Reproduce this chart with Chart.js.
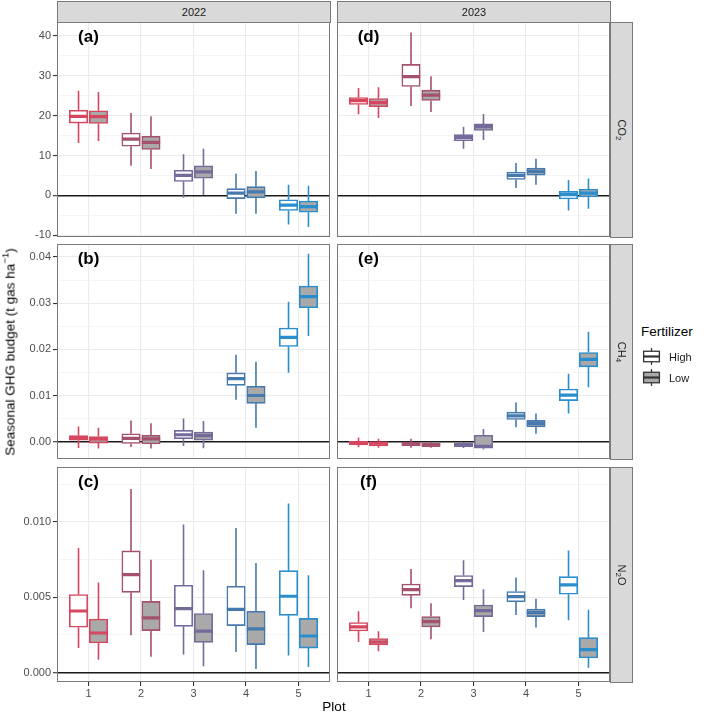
<!DOCTYPE html>
<html>
<head>
<meta charset="utf-8">
<script src="https://cdn.jsdelivr.net/npm/chart.js@4.4.1/dist/chart.umd.min.js"></script>
<style>
html,body{margin:0;padding:0;background:#fff;}
body{width:709px;height:713px;position:relative;overflow:hidden;font-family:"Liberation Sans",Arial,Helvetica,sans-serif;font-weight:400;}
canvas.panel{position:absolute;}
.strip{position:absolute;box-sizing:border-box;background:#d9d9d9;border:1px solid #7a7a7a;color:#1a1a1a;font-size:11px;}
.strip span{position:absolute;left:50%;top:50%;white-space:nowrap;transform:translate(-50%,-50%);}
.strip.right span{transform:translate(-50%,-50%) rotate(90deg);}
sub{font-size:8px;vertical-align:-2px;line-height:0;}
sup{font-size:9.5px;vertical-align:6px;line-height:0;}
.ytitle{position:absolute;left:10px;top:352px;transform:translate(-50%,-50%) rotate(-90deg);font-size:13.5px;font-weight:400;white-space:nowrap;color:#000;}
.xtitle{position:absolute;left:334px;top:706px;transform:translate(-50%,-50%);font-size:13.5px;font-weight:400;color:#000;white-space:nowrap;}
.legend{position:absolute;left:641px;top:324px;}
.legend .ltitle{font-size:13.5px;color:#000;white-space:nowrap;height:16px;line-height:16px;}
.legend .row{position:relative;height:21px;}
.legend .row svg{position:absolute;left:0;top:0;}
.legend .row span{position:absolute;left:28px;top:50%;transform:translateY(-50%);font-size:11px;color:#1a1a1a;}
</style>
</head>
<body>
<div id="root"></div>
<script>
// ---------------- DATA ----------------
const plots = [1, 2, 3, 4, 5];
const plotLabels = ['1', '2', '3', '4', '5'];
const years = ['2022', '2023'];
const gases = ['CO2', 'CH4', 'N2O'];
const gasLabelsHtml = ['CO<sub>2</sub>', 'CH<sub>4</sub>', 'N<sub>2</sub>O'];
const fertilizers = ['High', 'Low'];
const panelTags = [['(a)', '(b)', '(c)'], ['(d)', '(e)', '(f)']];
const xTitle = 'Plot';
const yTitleHtml = 'Seasonal GHG budget (t gas ha<sup>\u22121</sup>)';
const legendTitle = 'Fertilizer';

// box statistics per plot: [min, q1, median, q3, max]
const co2_2022_high = [[13.1, 18.1, 19.8, 21.3, 26.2], [7.4, 12.3, 14.1, 15.6, 20.6], [-0.6, 3.5, 5.0, 6.3, 10.3], [-4.6, -0.8, 0.6, 1.7, 5.4], [-7.3, -3.75, -2.4, -1.1, 2.7]];
const co2_2022_low  = [[13.6, 18.0, 19.7, 21.2, 25.9], [6.6, 11.5, 13.3, 14.8, 19.8], [0.1, 4.3, 5.9, 7.4, 11.7], [-4.6, -0.6, 0.9, 2.2, 6.1], [-7.9, -4.2, -2.8, -1.4, 2.4]];
const co2_2023_high = [[20.3, 22.75, 23.75, 24.5, 26.9], [22.4, 27.25, 29.75, 32.8, 40.8], [11.7, 13.7, 14.5, 15.2, 17.2], [1.85, 4.0, 5.0, 5.85, 8.1], [-3.75, -0.9, 0.2, 1.0, 3.85]];
const co2_2023_low  = [[19.35, 22.2, 23.25, 24.25, 27.1], [20.85, 23.75, 25.1, 26.35, 29.85], [13.9, 16.25, 17.2, 17.9, 20.35], [2.7, 5.1, 6.0, 6.85, 9.2], [-3.3, -0.4, 0.6, 1.6, 4.25]];

const ch4_2022_high = [[-0.00137, 0.0003, 0.0008, 0.0013, 0.0033], [-0.00115, -0.0004, 0.0007, 0.0017, 0.0046], [-0.00094, 0.00065, 0.0015, 0.00245, 0.0050], [0.0091, 0.0122, 0.01365, 0.0149, 0.0188], [0.0149, 0.0206, 0.0226, 0.0246, 0.0303]];
const ch4_2022_low  = [[-0.00145, -0.0003, 0.0006, 0.0011, 0.0030], [-0.00145, -0.0005, 0.0006, 0.00137, 0.0040], [-0.0014, 0.0003, 0.0013, 0.0021, 0.0045], [0.0030, 0.0083, 0.0100, 0.0120, 0.0173], [0.0229, 0.0290, 0.0314, 0.0337, 0.0407]];
const ch4_2023_high = [[-0.0012, -0.0007, -0.0003, 0.0001, 0.0009], [-0.0013, -0.0009, -0.0004, -0.0001, 0.00065], [-0.00137, -0.0011, -0.00065, -0.00037, -0.00015], [0.0031, 0.0048, 0.0056, 0.0064, 0.0085], [0.0061, 0.0089, 0.0101, 0.0114, 0.0147]];
const ch4_2023_low  = [[-0.0013, -0.0009, -0.0003, 0.0000, 0.00065], [-0.0013, -0.0011, -0.00065, -0.0003, 0.0000], [-0.0017, -0.0014, -0.0010, 0.00137, 0.00275], [0.0017, 0.0032, 0.0039, 0.0046, 0.0061], [0.0118, 0.0162, 0.0178, 0.0193, 0.0238]];

const n2o_2022_high = [[0.00163, 0.00301, 0.00409, 0.00518, 0.00827], [0.00248, 0.00533, 0.00651, 0.00808, 0.01219], [0.0012, 0.00307, 0.00425, 0.0058, 0.00983], [0.00137, 0.00312, 0.0042, 0.00573, 0.0096], [0.00113, 0.0038, 0.00507, 0.00677, 0.01122]];
const n2o_2022_low  = [[0.00086, 0.00197, 0.00263, 0.00356, 0.00598], [0.00106, 0.00279, 0.00363, 0.00473, 0.0075], [0.00042, 0.00201, 0.00276, 0.00392, 0.00679], [0.00024, 0.00186, 0.0029, 0.00407, 0.00728], [0.00037, 0.00163, 0.00243, 0.0036, 0.00646]];
const n2o_2023_high = [[0.00203, 0.00276, 0.00303, 0.00332, 0.00407], [0.00427, 0.00513, 0.00551, 0.00588, 0.00688], [0.00482, 0.00571, 0.00611, 0.00644, 0.00746], [0.00382, 0.00471, 0.00505, 0.00538, 0.00631], [0.00347, 0.0052, 0.00582, 0.00637, 0.0081]];
const n2o_2023_low  = [[0.00141, 0.00183, 0.00203, 0.00226, 0.00274], [0.00221, 0.00303, 0.00339, 0.00372, 0.0046], [0.0027, 0.00372, 0.00412, 0.00449, 0.00553], [0.00299, 0.00372, 0.00398, 0.00422, 0.00491], [0.00033, 0.00097, 0.00153, 0.00232, 0.00418]];

// y-axis ticks
const co2Major = [-10, 0, 10, 20, 30, 40];
const co2MajorLabels = ['-10', '0', '10', '20', '30', '40'];
const co2Minor = [-5, 5, 15, 25, 35];
const ch4Major = [0, 0.01, 0.02, 0.03, 0.04];
const ch4MajorLabels = ['0.00', '0.01', '0.02', '0.03', '0.04'];
const ch4Minor = [0.005, 0.015, 0.025, 0.035];
const n2oMajor = [0, 0.005, 0.01];
const n2oMajorLabels = ['0.000', '0.005', '0.010'];
const n2oMinor = [0.0025, 0.0075, 0.0125];

// ---------------- STYLE / LAYOUT ----------------
const plotColors = ['#d6475f', '#a4506f', '#766a9b', '#4679ae', '#2a8dcc'];
const fillColors = {High: '#ffffff', Low: '#a9a9a9'};
const yLimits = [[-10.4, 43.4], [-0.00375, 0.0428], [-0.000624, 0.01365]];
const xLimits = [0.4, 5.6];
const dodge = 0.19, boxW = 0.35;
const colX = [[57, 330], [337, 610]];
const rowY = [[22, 237], [244, 459], [467, 682]];
const FONT = '"Liberation Sans", Arial, Helvetica, sans-serif';

const stats = {
  CO2: {'2022': {High: co2_2022_high, Low: co2_2022_low}, '2023': {High: co2_2023_high, Low: co2_2023_low}},
  CH4: {'2022': {High: ch4_2022_high, Low: ch4_2022_low}, '2023': {High: ch4_2023_high, Low: ch4_2023_low}},
  N2O: {'2022': {High: n2o_2022_high, Low: n2o_2022_low}, '2023': {High: n2o_2023_high, Low: n2o_2023_low}}
};
const tickSets = [
  {major: co2Major, labels: co2MajorLabels, minor: co2Minor},
  {major: ch4Major, labels: ch4MajorLabels, minor: ch4Minor},
  {major: n2oMajor, labels: n2oMajorLabels, minor: n2oMinor}
];

Chart.defaults.font.family = FONT;
const root = document.getElementById('root');

const framePlugin = {
  id: 'frame',
  afterDraw(chart, args, opts) {
    const a = chart.chartArea, ctx = chart.ctx;
    ctx.save();
    ctx.fillStyle = '#000';
    ctx.font = 'bold 17px ' + FONT;
    ctx.textAlign = 'center';
    ctx.textBaseline = 'middle';
    ctx.fillText(opts.tag, chart.scales.x.getPixelForValue(plots[0]), a.top + 15);
    ctx.strokeStyle = '#7a7a7a';
    ctx.lineWidth = 1;
    ctx.strokeRect(a.left + 0.5, a.top + 0.5, a.right - a.left - 1, a.bottom - a.top - 1);
    ctx.restore();
  }
};

function near(list, v) {
  return list.findIndex(m => Math.abs(m - v) < 1e-9);
}

function makePanel(row, col) {
  const gas = gases[row], year = years[col];
  const ts = tickSets[row];
  const left = col === 0 ? 0 : colX[col][0] - 2;
  const width = colX[col][1] + 2 - left;
  const top = rowY[row][0] - 2;
  const xAxisH = row === 2 ? 24 : 0;
  const height = (rowY[row][1] - rowY[row][0]) + 2 + (row === 2 ? xAxisH : 2);
  const yAxisW = col === 0 ? colX[0][0] : 0;

  const cv = document.createElement('canvas');
  cv.className = 'panel';
  cv.width = width; cv.height = height;
  cv.style.left = left + 'px'; cv.style.top = top + 'px';
  cv.style.width = width + 'px'; cv.style.height = height + 'px';
  root.appendChild(cv);

  const datasets = [];
  const unitPx = (colX[col][1] - colX[col][0]) / (xLimits[1] - xLimits[0]);
  fertilizers.forEach((f, fi) => {
    const s = stats[gas][year][f];
    const off = fi === 0 ? -dodge : dodge;
    datasets.push({
      type: 'bar',
      label: f,
      data: plots.map((p, i) => ({x: p + off, y: [s[i][1], s[i][3]]})),
      backgroundColor: fillColors[f],
      borderColor: plotColors,
      borderWidth: 1.6,
      borderSkipped: false,
      grouped: false,
      barThickness: boxW * unitPx,
      order: 1
    });
  });
  plots.forEach((p, i) => {
    const wh = [], md = [];
    fertilizers.forEach((f, fi) => {
      const s = stats[gas][year][f][i];
      const c = p + (fi === 0 ? -dodge : dodge);
      wh.push({x: c, y: s[4]}, {x: c, y: s[3]}, {x: c, y: null}, {x: c, y: s[1]}, {x: c, y: s[0]}, {x: c, y: null});
      md.push({x: c - boxW / 2, y: s[2]}, {x: c + boxW / 2, y: s[2]}, {x: c, y: null});
    });
    datasets.push({type: 'line', data: wh, borderColor: plotColors[i], borderWidth: 1.6, pointRadius: 0, pointHitRadius: 0, spanGaps: false, fill: false, tension: 0, order: 2});
    datasets.push({type: 'line', data: md, borderColor: plotColors[i], borderWidth: 3.2, pointRadius: 0, pointHitRadius: 0, spanGaps: false, fill: false, tension: 0, borderCapStyle: 'butt', order: 0});
  });

  const allY = ts.major.concat(ts.minor).sort((a, b) => a - b);

  new Chart(cv, {
    type: 'bar',
    data: {datasets},
    plugins: [framePlugin],
    options: {
      responsive: false,
      animation: false,
      events: [],
      layout: {padding: {left: col === 0 ? 0 : 2, right: 2, top: 2, bottom: row === 2 ? 0 : 2}},
      plugins: {legend: {display: false}, tooltip: {enabled: false}, frame: {tag: panelTags[col][row]}},
      scales: {
        x: {
          type: 'linear', min: xLimits[0], max: xLimits[1], offset: false,
          afterBuildTicks: sc => { sc.ticks = plots.map(v => ({value: v})); },
          afterFit: sc => { sc.height = xAxisH; sc.paddingLeft = 0; sc.paddingRight = 0; sc.paddingTop = 0; sc.paddingBottom = 0; },
          border: {display: false},
          grid: {offset: false, color: '#ebebeb', lineWidth: 1.1, drawTicks: row === 2, tickLength: 4, tickColor: '#333333', tickWidth: 1.1},
          ticks: {display: row === 2, autoSkip: false, maxRotation: 0, padding: 1, color: '#4d4d4d', font: {size: 11},
                  callback: (v, i) => plotLabels[i]}
        },
        y: {
          type: 'linear', min: yLimits[row][0], max: yLimits[row][1], beginAtZero: false,
          afterBuildTicks: sc => { sc.ticks = allY.map(v => ({value: v})); },
          afterFit: sc => { sc.width = yAxisW; sc.paddingTop = 0; sc.paddingBottom = 0; sc.paddingLeft = 0; sc.paddingRight = 0; },
          border: {display: false},
          grid: {
            color: c => { const v = c.tick.value; if (Math.abs(v) < 1e-12) return '#1a1a1a'; return near(ts.major, v) >= 0 ? '#ebebeb' : '#f3f3f3'; },
            lineWidth: c => { const v = c.tick.value; if (Math.abs(v) < 1e-12) return 1.4; return near(ts.major, v) >= 0 ? 1.1 : 0.8; },
            tickColor: c => near(ts.major, c.tick.value) >= 0 ? '#333333' : 'rgba(0,0,0,0)',
            tickWidth: 1.1,
            drawTicks: col === 0, tickLength: 4
          },
          ticks: {display: col === 0, autoSkip: false, padding: 2, color: '#4d4d4d', font: {size: 11},
                  callback: v => { const k = near(ts.major, v); return k >= 0 ? ts.labels[k] : ''; }}
        }
      }
    }
  });
}

for (let r = 0; r < 3; r++) for (let c = 0; c < 2; c++) makePanel(r, c);

// strips
years.forEach((y, c) => {
  const d = document.createElement('div');
  d.className = 'strip';
  d.style.left = colX[c][0] + 'px'; d.style.top = '1px';
  d.style.width = (colX[c][1] - colX[c][0] + 1) + 'px'; d.style.height = (rowY[0][0]) + 'px';
  d.innerHTML = '<span>' + y + '</span>';
  root.appendChild(d);
});
gasLabelsHtml.forEach((g, r) => {
  const d = document.createElement('div');
  d.className = 'strip right';
  d.style.left = colX[1][1] + 'px'; d.style.top = rowY[r][0] + 'px';
  d.style.width = '23px'; d.style.height = (rowY[r][1] - rowY[r][0] + 1) + 'px';
  d.innerHTML = '<span>' + g + '</span>';
  root.appendChild(d);
});

// axis titles
const yt = document.createElement('div'); yt.className = 'ytitle'; yt.innerHTML = yTitleHtml; root.appendChild(yt);
const xt = document.createElement('div'); xt.className = 'xtitle'; xt.textContent = xTitle; root.appendChild(xt);

// legend
const lg = document.createElement('div'); lg.className = 'legend';
let html = '<div class="ltitle">' + legendTitle + '</div><div style="height:6px"></div>';
fertilizers.forEach(f => {
  html += '<div class="row"><svg width="21" height="21">' +
    '<rect x="0" y="0" width="21" height="21" fill="#ffffff"/>' +
    '<line x1="10.5" y1="2.1" x2="10.5" y2="5.25" stroke="#333" stroke-width="1.3"/>' +
    '<line x1="10.5" y1="15.75" x2="10.5" y2="18.9" stroke="#333" stroke-width="1.3"/>' +
    '<rect x="2.6" y="5.25" width="15.8" height="10.5" fill="' + fillColors[f] + '" stroke="#333" stroke-width="1.3"/>' +
    '<line x1="2.6" y1="10.5" x2="18.4" y2="10.5" stroke="#333" stroke-width="2.2"/>' +
    '</svg><span>' + f + '</span></div>';
});
lg.innerHTML = html;
root.appendChild(lg);
</script>
</body>
</html>
